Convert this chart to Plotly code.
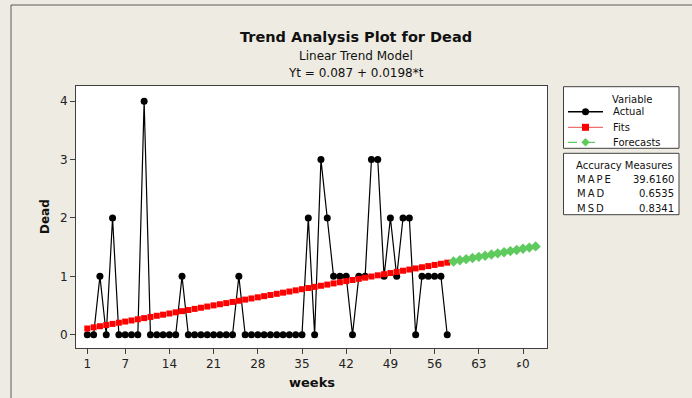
import plotly.graph_objects as go

# ---------------- data ----------------
weeks_actual = list(range(1, 59))
actual = [0, 0, 1, 0, 2, 0, 0, 0, 0, 4,
          0, 0, 0, 0, 0, 1, 0, 0, 0, 0,
          0, 0, 0, 0, 1, 0, 0, 0, 0, 0,
          0, 0, 0, 0, 0, 2, 0, 3, 2, 1,
          1, 1, 0, 1, 1, 3, 3, 1, 2, 1,
          2, 2, 0, 1, 1, 1, 1, 0]
fits = [0.107, 0.127, 0.146, 0.166, 0.186, 0.206, 0.226, 0.245, 0.265, 0.285,
        0.305, 0.325, 0.344, 0.364, 0.384, 0.404, 0.424, 0.443, 0.463, 0.483,
        0.503, 0.523, 0.542, 0.562, 0.582, 0.602, 0.622, 0.641, 0.661, 0.681,
        0.701, 0.721, 0.740, 0.760, 0.780, 0.800, 0.820, 0.839, 0.859, 0.879,
        0.899, 0.919, 0.938, 0.958, 0.978, 0.998, 1.018, 1.037, 1.057, 1.077,
        1.097, 1.117, 1.136, 1.156, 1.176, 1.196, 1.216, 1.235]
weeks_forecast = list(range(59, 73))
forecasts = [1.255, 1.275, 1.295, 1.315, 1.334, 1.354, 1.374, 1.394, 1.414, 1.433,
             1.453, 1.473, 1.493, 1.513]
x_tickvals = [1, 7, 14, 21, 28, 35, 42, 49, 56, 63, 70]
x_ticktext = ["1", "7", "14", "21", "28", "35", "42", "49", "56", "63", "\u0621\u200e0"]
y_tickvals = [0, 1, 2, 3, 4]
accuracy_labels = ["MAPE", "MAD", "MSD"]
accuracy_values = ["39.6160", "0.6535", "0.8341"]
legend_names = ["Actual", "Fits", "Forecasts"]

# ---------------- layout geometry (pixels) ----------------
FW, FH = 692, 398
L, R, T, B = 76, 547, 86, 348
W, H = R - L, B - T
BG = "#EEEBE2"
FRAME = "#404040"
FONT = "DejaVu Sans"


def px(x):
    return (x - L) / W


def py(y):
    return (B - y) / H


def spaced(s):
    return "\u2009".join(s)


fig = go.Figure()
fig.add_trace(go.Scatter(x=weeks_actual, y=actual, mode="lines+markers", name=legend_names[0],
                         line=dict(color="black", width=1.2),
                         marker=dict(symbol="circle", size=7, color="black")))
fig.add_trace(go.Scatter(x=weeks_actual, y=fits, mode="markers", name=legend_names[1],
                         marker=dict(symbol="square", size=6, color="#FF0000")))
fig.add_trace(go.Scatter(x=weeks_forecast, y=forecasts, mode="markers", name=legend_names[2],
                         marker=dict(symbol="diamond", size=8, color="#5FCB5F")))

shapes = []
annotations = []

# outer frame
shapes.append(dict(type="rect", xref="paper", yref="paper", x0=px(11), x1=px(720),
                   y0=py(420), y1=py(5), line=dict(color="#5A5A5A", width=1), layer="below"))

# legend boxes
for (y0, y1) in [(86.7, 148.3), (153.3, 214.7)]:
    shapes.append(dict(type="rect", xref="paper", yref="paper", x0=px(563.5), x1=px(679),
                       y0=py(y1), y1=py(y0), line=dict(color=FRAME, width=1), fillcolor="white"))

annotations.append(dict(text="Variable", x=px(610), y=py(99.3), xref="paper", yref="paper",
                        xanchor="left", yanchor="middle", showarrow=False,
                        font=dict(family=FONT, size=10, color="#111")))
row_y = [111.7, 127.3, 142.3]
# Actual sample
shapes.append(dict(type="line", xref="paper", yref="paper", x0=px(568), x1=px(603),
                   y0=py(row_y[0]), y1=py(row_y[0]), line=dict(color="black", width=1.5)))
shapes.append(dict(type="circle", xref="paper", yref="paper", x0=px(582), x1=px(589),
                   y0=py(row_y[0] + 3.5), y1=py(row_y[0] - 3.5), fillcolor="black",
                   line=dict(color="black", width=0)))
# Fits sample
shapes.append(dict(type="line", xref="paper", yref="paper", x0=px(568), x1=px(603),
                   y0=py(row_y[1]), y1=py(row_y[1]), line=dict(color="#F07070", width=1.2)))
shapes.append(dict(type="rect", xref="paper", yref="paper", x0=px(582), x1=px(589),
                   y0=py(row_y[1] + 3.5), y1=py(row_y[1] - 3.5), fillcolor="#FF0000",
                   line=dict(color="#FF0000", width=0)))
# Forecast sample
shapes.append(dict(type="line", xref="paper", yref="paper", x0=px(568), x1=px(603),
                   y0=py(row_y[2]), y1=py(row_y[2]),
                   line=dict(color="#5FCB5F", width=1.2, dash="dash")))
cx, cy, r = 585.5, row_y[2], 4.2
shapes.append(dict(type="path", xref="paper", yref="paper",
                   path=f"M {px(cx - r)} {py(cy)} L {px(cx)} {py(cy - r)} L {px(cx + r)} {py(cy)} L {px(cx)} {py(cy + r)} Z",
                   fillcolor="#5FCB5F", line=dict(color="#5FCB5F", width=0)))
for name, yy in zip(legend_names, row_y):
    annotations.append(dict(text=name, x=px(610.5), y=py(yy), xref="paper", yref="paper",
                            xanchor="left", yanchor="middle", showarrow=False,
                            font=dict(family=FONT, size=10, color="#111")))

# accuracy measures
annotations.append(dict(text="Accuracy Measures", x=px(624.5), y=py(165.7), xref="paper", yref="paper",
                        xanchor="center", yanchor="middle", showarrow=False,
                        font=dict(family=FONT, size=10, color="#111")))
for lab, val, yy in zip(accuracy_labels, accuracy_values, [179.3, 193.3, 208.3]):
    annotations.append(dict(text=spaced(lab), x=px(574.5), y=py(yy), xref="paper", yref="paper",
                            xanchor="left", yanchor="middle", showarrow=False,
                            font=dict(family=FONT, size=10, color="#111")))
    annotations.append(dict(text=val, x=px(675.5), y=py(yy), xref="paper", yref="paper",
                            xanchor="right", yanchor="middle", showarrow=False,
                            font=dict(family=FONT, size=10, color="#111")))

# titles
annotations.append(dict(text="<b>Trend Analysis Plot for Dead</b>", x=px(355.5), y=py(37), xref="paper",
                        yref="paper", xanchor="center", yanchor="middle", showarrow=False,
                        font=dict(family=FONT, size=14.5, color="#111")))
annotations.append(dict(text="Linear Trend Model", x=px(356), y=py(56), xref="paper",
                        yref="paper", xanchor="center", yanchor="middle", showarrow=False,
                        font=dict(family=FONT, size=12, color="#111")))
annotations.append(dict(text="Yt = 0.087 + 0.0198*t", x=px(356), y=py(73), xref="paper",
                        yref="paper", xanchor="center", yanchor="middle", showarrow=False,
                        font=dict(family=FONT, size=12, color="#111")))
annotations.append(dict(text="<b>weeks</b>", x=px(311.5), y=py(382.5), xref="paper",
                        yref="paper", xanchor="center", yanchor="middle", showarrow=False,
                        font=dict(family=FONT, size=13, color="#111")))
annotations.append(dict(text="<b>Dead</b>", x=px(45), y=py(217), xref="paper",
                        yref="paper", xanchor="center", yanchor="middle", showarrow=False,
                        textangle=-90, font=dict(family=FONT, size=12, color="#111")))

fig.update_layout(
    width=FW, height=FH,
    margin=dict(l=L, r=FW - R, t=T, b=FH - B, pad=0),
    paper_bgcolor=BG, plot_bgcolor="white",
    showlegend=False,
    shapes=shapes, annotations=annotations,
    font=dict(family=FONT, size=12, color="#222"),
)
fig.update_xaxes(range=[-0.79, 73.8], tickmode="array", tickvals=x_tickvals, ticktext=x_ticktext,
                 ticks="outside", ticklen=5, tickcolor=FRAME, showline=True, mirror=True,
                 linecolor=FRAME, linewidth=1, showgrid=False, zeroline=False,
                 tickfont=dict(family=FONT, size=12, color="#222"))
fig.update_yaxes(range=[-0.227, 4.261], tickmode="array", tickvals=y_tickvals,
                 ticks="outside", ticklen=5, tickcolor=FRAME, showline=True, mirror=True,
                 linecolor=FRAME, linewidth=1, showgrid=False, zeroline=False,
                 tickfont=dict(family=FONT, size=12, color="#222"))

fig.write_html(
    "out.html",
    config={"displayModeBar": False},
    post_script="document.body.style.margin='0';document.body.style.overflow='hidden';",
)
